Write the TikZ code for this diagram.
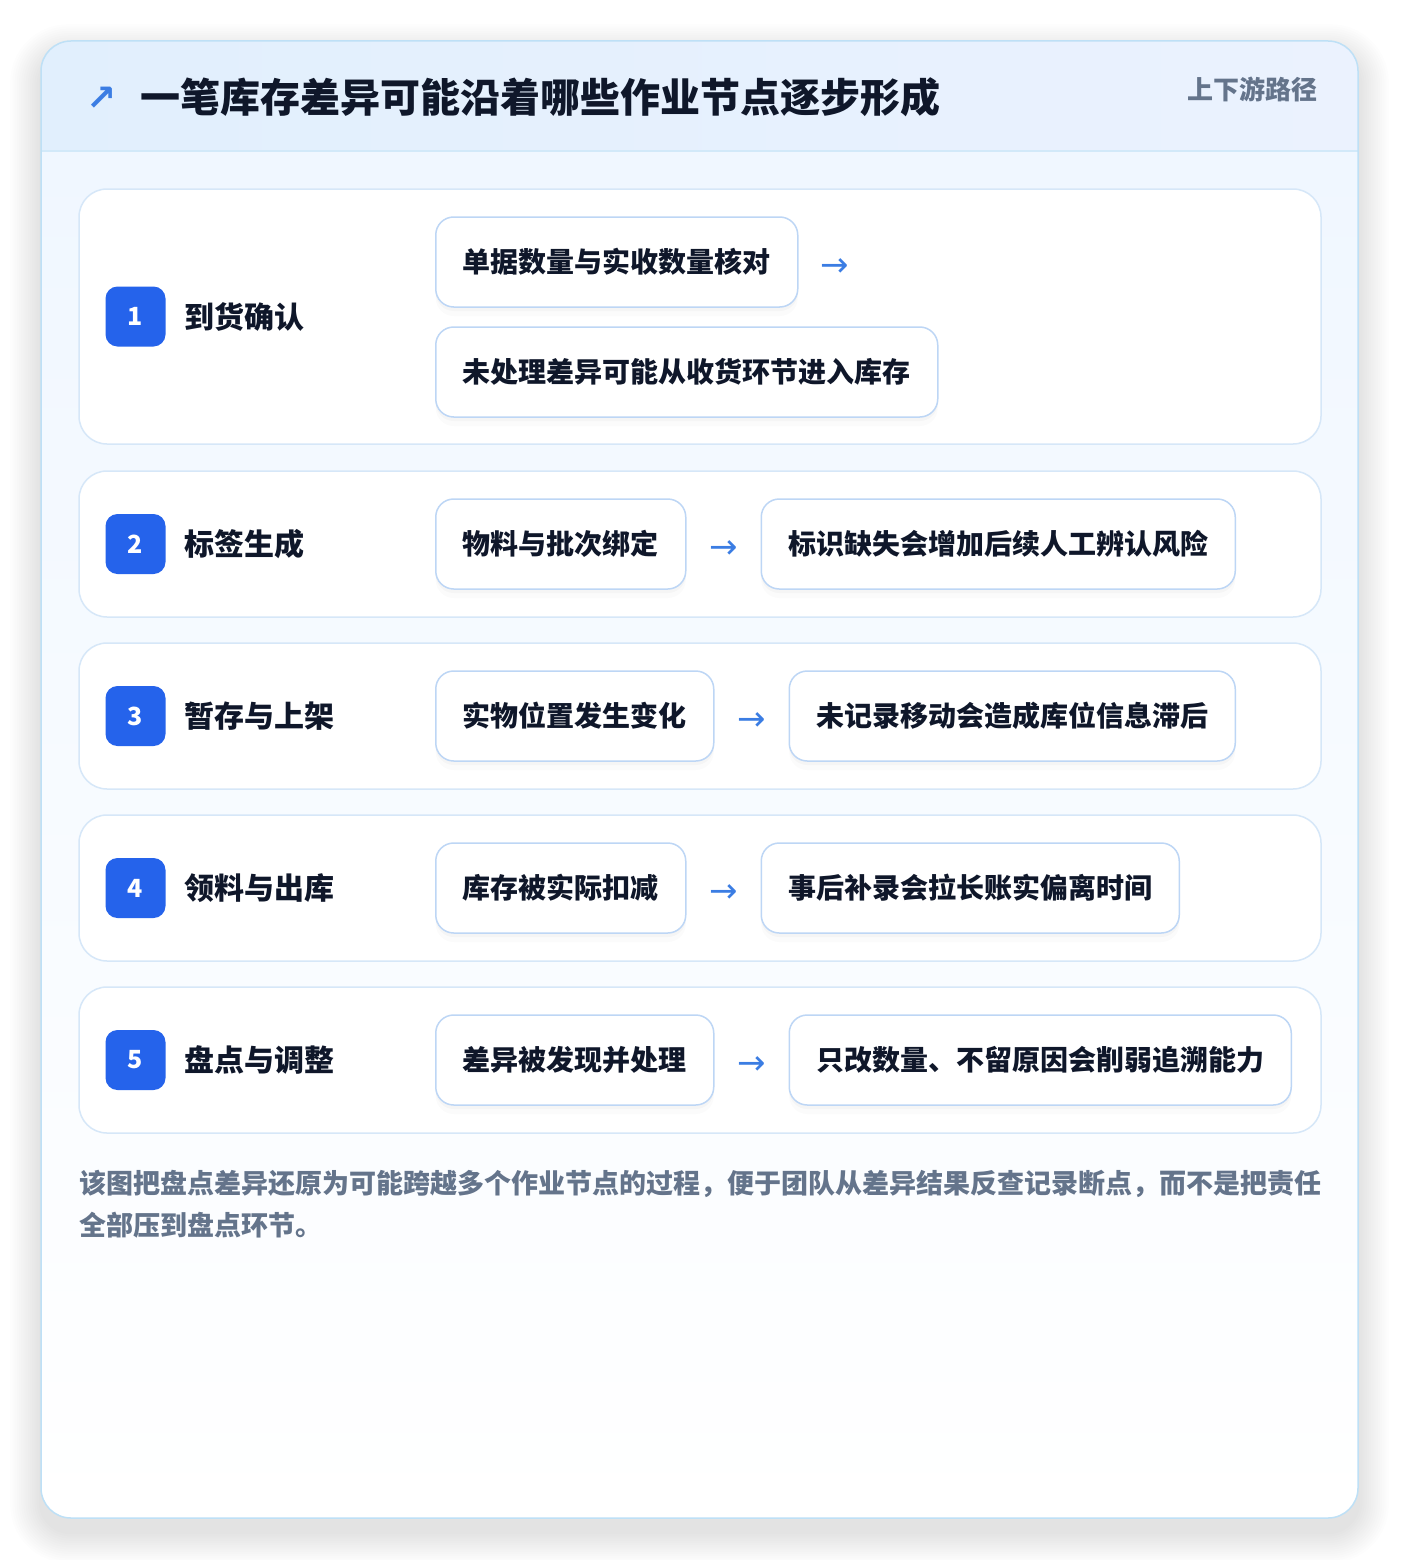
\documentclass[tikz,border=0pt]{standalone}
\usepackage{fontspec}
\setmainfont{Noto Sans CJK SC}
\newfontfamily\symfont{DejaVu Sans}
\usetikzlibrary{positioning}

\definecolor{ink}{HTML}{0F172A}
\definecolor{muted}{HTML}{64748B}
\definecolor{badgeblue}{HTML}{2563EB}
\definecolor{arrowblue}{HTML}{3B7DE3}
\definecolor{cardline}{HTML}{BEE0F6}
\definecolor{rowline}{HTML}{D6E7F8}
\definecolor{boxline}{HTML}{BDD6F5}
\definecolor{headleft}{HTML}{E1EFFD}
\definecolor{headright}{HTML}{EBF2FE}
\definecolor{bodytop}{HTML}{F0F7FF}

\begin{document}
\begin{tikzpicture}
	[x=1pt, y=-1pt, node distance=23pt,
	 rowbox/.style={draw=rowline, line width=1.5pt, fill=white, rounded corners=28pt},
	 badge/.style={fill=badgeblue, rounded corners=12pt, minimum size=60pt, inner sep=0pt,
	   text=white, font=\bfseries\fontsize{25}{25}\selectfont},
	 steplabel/.style={text=ink, inner sep=0pt, font=\bfseries\fontsize{30}{30}\selectfont},
	 itembox/.style={draw=boxline, line width=1.5pt, fill=white, rounded corners=18pt,
	   minimum height=90pt, inner xsep=27pt, inner ysep=0pt, text=ink,
	   font=\bfseries\fontsize{28}{28}\selectfont,
	   preaction={fill=black, opacity=0.025, transform canvas={yshift=-4pt}},
	   preaction={fill=black, opacity=0.015, transform canvas={yshift=-9pt}}},
	 flow/.style={text=arrowblue, inner sep=0pt, font=\symfont\fontsize{34}{34}\selectfont}]

\useasboundingbox (0,0) rectangle (1400,1560);
\fill[white] (0,0) rectangle (1400,1560);

% card shadow
\foreach \k in {1,...,14}
  \fill[black, opacity=0.006, rounded corners={30pt+\k*2pt}]
    (41-\k*2.2, 55-\k*2.2) rectangle (1358+\k*2.2, 1532+\k*2.2);

% card
\begin{scope}
  \clip[rounded corners=30pt] (41,41) rectangle (1358,1518);
  \fill[white] (41,41) rectangle (1358,1518);
  \shade[top color=bodytop, bottom color=white] (41,151) rectangle (1358,1518);
  \shade[left color=headleft, right color=headright] (41,41) rectangle (1358,151);
  \draw[cardline!70, line width=1.5pt] (41,151) -- (1358,151);
\end{scope}
\draw[cardline, line width=1.5pt, rounded corners=30pt] (41,41) rectangle (1358,1518);

% header
\node[text=arrowblue, inner sep=0pt, font=\symfont\bfseries\fontsize{36}{36}\selectfont] (icon) at (102,99) {↗};
\node[anchor=west, text=ink, inner sep=0pt, font=\bfseries\fontsize{40}{40}\selectfont] (title) at (140,97)
  {一笔库存差异可能沿着哪些作业节点逐步形成};
\node[anchor=east, text=muted, inner sep=0pt, font=\bfseries\fontsize{26}{26}\selectfont] (tag) at (1318,89)
  {上下游路径};

% rows
\draw[rowbox] (79,189) rectangle (1321,444);
\draw[rowbox] (79,471) rectangle (1321,617);
\draw[rowbox] (79,643) rectangle (1321,789);
\draw[rowbox] (79,815) rectangle (1321,961);
\draw[rowbox] (79,987) rectangle (1321,1133);

% 1
\node[badge] (b1) at (135.5,316.5) {1};
\node[steplabel, right=19pt of b1] (s1) {到货确认};
\node[itembox, anchor=west] (i1a) at (435,262) {单据数量与实收数量核对};
\node[flow, right=22pt of i1a, yshift=-6pt] (f1) {→};
\node[itembox, anchor=west] (i1b) at (435,372) {未处理差异可能从收货环节进入库存};

% 2
\node[badge] (b2) at (135.5,544) {2};
\node[steplabel, right=19pt of b2] (s2) {标签生成};
\node[itembox, anchor=west] (i2a) at (435,544) {物料与批次绑定};
\node[itembox, right=74pt of i2a] (i2b) {标识缺失会增加后续人工辨认风险};
\path (i2a.east) -- node[flow, yshift=-6pt] (f2) {→} (i2b.west);

% 3
\node[badge] (b3) at (135.5,716) {3};
\node[steplabel, right=19pt of b3] (s3) {暂存与上架};
\node[itembox, anchor=west] (i3a) at (435,716) {实物位置发生变化};
\node[itembox, right=74pt of i3a] (i3b) {未记录移动会造成库位信息滞后};
\path (i3a.east) -- node[flow, yshift=-6pt] (f3) {→} (i3b.west);

% 4
\node[badge] (b4) at (135.5,888) {4};
\node[steplabel, right=19pt of b4] (s4) {领料与出库};
\node[itembox, anchor=west] (i4a) at (435,888) {库存被实际扣减};
\node[itembox, right=74pt of i4a] (i4b) {事后补录会拉长账实偏离时间};
\path (i4a.east) -- node[flow, yshift=-6pt] (f4) {→} (i4b.west);

% 5
\node[badge] (b5) at (135.5,1060) {5};
\node[steplabel, right=19pt of b5] (s5) {盘点与调整};
\node[itembox, anchor=west] (i5a) at (435,1060) {差异被发现并处理};
\node[itembox, right=74pt of i5a] (i5b) {只改数量、不留原因会削弱追溯能力};
\path (i5a.east) -- node[flow, yshift=-6pt] (f5) {→} (i5b.west);

% note
\node[anchor=north west, text=muted, inner sep=0pt, align=left,
  font=\bfseries\fontsize{27}{42}\selectfont] (note) at (79,1170)
  {该图把盘点差异还原为可能跨越多个作业节点的过程，便于团队从差异结果反查记录断点，而不是把责任\\
   全部压到盘点环节。};

\end{tikzpicture}
\end{document}
